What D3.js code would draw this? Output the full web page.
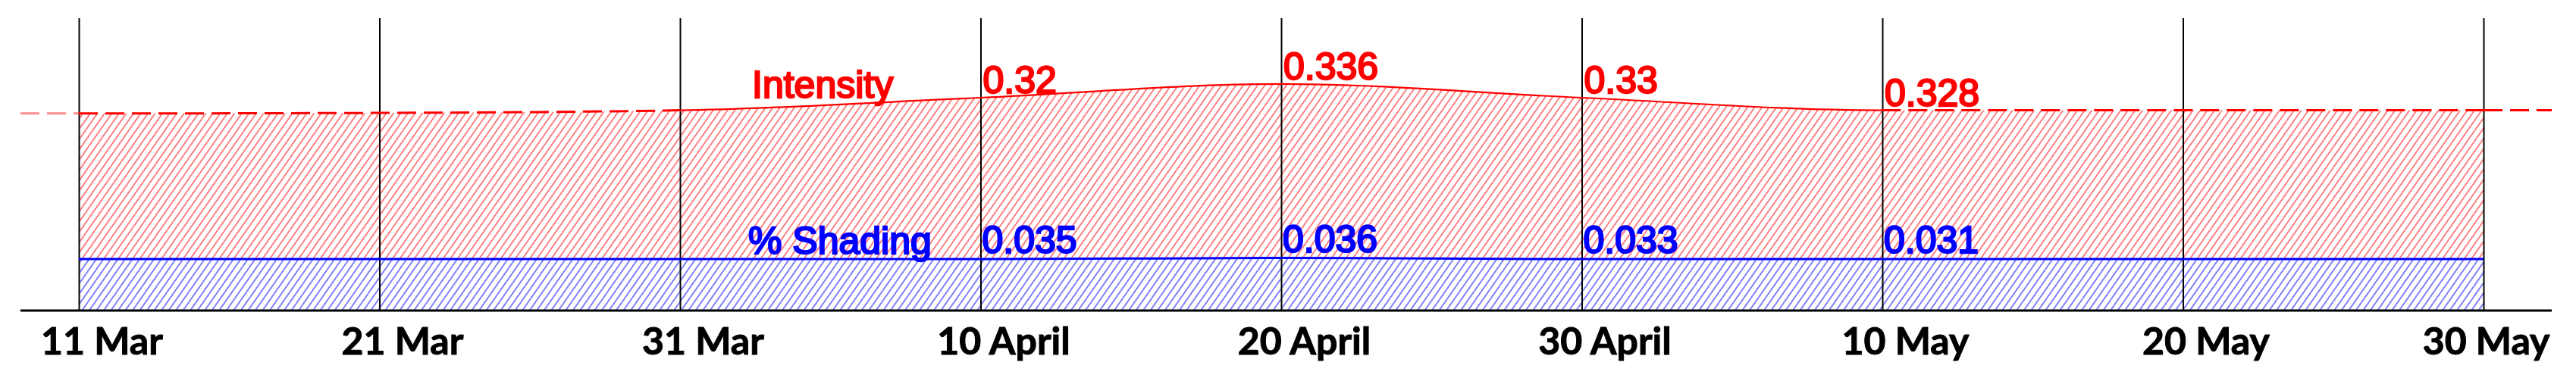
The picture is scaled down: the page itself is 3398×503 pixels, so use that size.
<!DOCTYPE html>
<html>
  <head>
    <meta charset="utf-8">
    <script src="https://d3js.org/d3.v7.min.js"></script>
    <title></title>
    <style>
    body {
      margin: 0;
      background-color: #fff;
    }
    svg {
      display: block;
      background-color: #fff;
    }
    .val {
      font-family: "Liberation Sans", Arial, sans-serif;
      font-size: 50px;
      stroke-width: 2.4px;
    }
    .axis text {
      font-family: Lato, "Open Sans", sans-serif;
      font-weight: bold;
      font-size: 50px;
      fill: #000;
      stroke: #000;
      stroke-width: 1px;
    }
    .axis line {
      stroke: #000;
      stroke-width: 2px;
    }
    </style>
  </head>
  <body>
    <script type="text/javascript">
      // dates of the grid lines and their labels
      let dates = ['2020-03-11', '2020-03-21', '2020-03-31', '2020-04-10', '2020-04-20',
                   '2020-04-30', '2020-05-10', '2020-05-20', '2020-05-30']
      let tickLabels = ['11 Mar', '21 Mar', '31 Mar', '10 April', '20 April',
                        '30 April', '10 May', '20 May', '30 May']

      // drawn height of the two top edges (% of plot height)
      let intensityLevel = [67.4, 67.6, 68.5, 72.8, 77.5, 72.8, 68.5, 68.5, 68.5]
      let shadingLevel = [17.6, 17.6, 17.6, 17.6, 18.0, 17.6, 17.6, 17.6, 17.6]

      // annotated values, 10 April to 10 May
      let valueDates = ['2020-04-10', '2020-04-20', '2020-04-30', '2020-05-10']
      let intensityValues = ['0.32', '0.336', '0.33', '0.328']
      let shadingValues = ['0.035', '0.036', '0.033', '0.031']

      // the measured stretch (solid line) and series names
      let solidRange = ['2020-03-31', '2020-05-10']
      let seriesNames = ['Intensity', '% Shading']

      let w = 3398
      let h = 503
      let pLeft = 104, pRight = 3276, pTop = 24, pBottom = 410
      let axisStart = 27, axisEnd = 3366

      let parse = d3.utcParse('%Y-%m-%d')
      let data = dates.map((d, i) => ({
        date: parse(d),
        hi: intensityLevel[i],
        lo: shadingLevel[i]
      }))

      let svg = d3.select('body')
                  .append('svg')
                  .attr('width', w)
                  .attr('height', h)

      let xScale = d3.scaleUtc()
                     .domain([data[0].date, data[data.length - 1].date])
                     .range([pLeft, pRight])
      let yScale = d3.scaleLinear()
                     .domain([0, 100])
                     .range([pBottom, pTop])

      // hatch patterns (thin lines tilted ~55 degrees)
      let defs = svg.append('defs')
      function hatch(id, color) {
        let s = 7.8
        defs.append('pattern')
            .attr('id', id)
            .attr('patternUnits', 'userSpaceOnUse')
            .attr('width', s)
            .attr('height', 20)
            .attr('patternTransform', 'rotate(35)')
          .append('line')
            .attr('x1', s / 2).attr('x2', s / 2)
            .attr('y1', 0).attr('y2', 20)
            .attr('stroke', color)
            .attr('stroke-opacity', 0.7)
            .attr('stroke-width', 1.4)
      }
      hatch('hatchRed', '#ff0000')
      hatch('hatchBlue', '#0000ff')

      let x0 = xScale(parse(solidRange[0]))
      let x1 = xScale(parse(solidRange[1]))
      defs.append('clipPath').attr('id', 'inside')
          .append('rect').attr('x', x0).attr('y', 0).attr('width', x1 - x0).attr('height', h)
      defs.append('clipPath').attr('id', 'outside')
          .append('path')
          .attr('d', `M0,0H${x0}V${h}H0Z M${x1},0H${w}V${h}H${x1}Z`)

      let curve = d3.curveMonotoneX

      // red hatched band between the two edges
      svg.append('path')
         .datum(data)
         .attr('d', d3.area().curve(curve)
                      .x(d => xScale(d.date))
                      .y0(d => yScale(d.lo))
                      .y1(d => yScale(d.hi)))
         .attr('fill', 'url(#hatchRed)')

      // blue hatched band
      svg.append('path')
         .datum(data)
         .attr('d', d3.area().curve(curve)
                      .x(d => xScale(d.date))
                      .y0(yScale(0))
                      .y1(d => yScale(d.lo)))
         .attr('fill', 'url(#hatchBlue)')

      // x axis with grid lines
      let axis = svg.append('g')
                    .attr('class', 'axis')
                    .attr('transform', `translate(0, ${pBottom})`)
                    .call(d3.axisBottom(xScale)
                            .tickValues(data.map(d => d.date))
                            .tickFormat((d, i) => tickLabels[i])
                            .tickSizeInner(-(pBottom - pTop))
                            .tickSizeOuter(0))
      axis.select('.domain').remove()
      axis.selectAll('text')
          .attr('y', 58)
          .attr('dy', 0)
          .attr('x', function(d) {
            let tx = xScale(d)
            let half = this.getComputedTextLength() / 2
            return Math.min(30, axisEnd - 3 - half - tx)
          })

      svg.append('line')
         .attr('x1', axisStart).attr('x2', axisEnd)
         .attr('y1', pBottom).attr('y2', pBottom)
         .attr('stroke', '#000')
         .attr('stroke-width', 3)

      // blue top edge
      svg.append('path')
         .datum(data)
         .attr('d', d3.line().curve(curve).x(d => xScale(d.date)).y(d => yScale(d.lo)))
         .attr('fill', 'none')
         .attr('stroke', '#0000ff')
         .attr('stroke-width', 3)

      // red top edge: solid where measured, dashed elsewhere
      let redLine = d3.line().curve(curve).x(d => xScale(d.date)).y(d => yScale(d.hi))
      svg.append('path')
         .datum(data)
         .attr('d', redLine)
         .attr('clip-path', 'url(#inside)')
         .attr('fill', 'none')
         .attr('stroke', '#ff0000')
         .attr('stroke-width', 2.2)
      svg.append('path')
         .datum(data)
         .attr('d', redLine)
         .attr('clip-path', 'url(#outside)')
         .attr('fill', 'none')
         .attr('stroke', '#ff0000')
         .attr('stroke-width', 3)
         .attr('stroke-dasharray', '25,10')
      svg.append('line')
         .attr('x1', axisStart).attr('x2', xScale(data[0].date))
         .attr('y1', yScale(data[0].hi)).attr('y2', yScale(data[0].hi))
         .attr('stroke', '#ff0000')
         .attr('stroke-opacity', 0.45)
         .attr('stroke-width', 3)
         .attr('stroke-dasharray', '25,10')
      svg.append('line')
         .attr('x1', xScale(data[data.length - 1].date)).attr('x2', axisEnd)
         .attr('y1', yScale(data[data.length - 1].hi)).attr('y2', yScale(data[data.length - 1].hi))
         .attr('stroke', '#ff0000')
         .attr('stroke-width', 3)
         .attr('stroke-dasharray', '25,10')

      // value labels
      let levelAt = (dateStr, key) => data[dates.indexOf(dateStr)][key]
      svg.selectAll('text.ival')
         .data(valueDates)
         .enter()
         .append('text')
         .attr('class', 'val ival')
         .attr('x', d => xScale(parse(d)) + 3)
         .attr('y', d => yScale(levelAt(d, 'hi')) - 5.5)
         .attr('fill', '#ff0000')
         .attr('stroke', '#ff0000')
         .text((d, i) => intensityValues[i])
      svg.selectAll('text.sval')
         .data(valueDates)
         .enter()
         .append('text')
         .attr('class', 'val sval')
         .attr('x', d => xScale(parse(d)) + 2)
         .attr('y', d => yScale(levelAt(d, 'lo')) - 8)
         .attr('fill', '#0000ff')
         .attr('stroke', '#0000ff')
         .text((d, i) => shadingValues[i])

      // series names
      svg.append('text')
         .attr('class', 'val')
         .attr('x', x0 + 95)
         .attr('y', 129)
         .attr('fill', '#ff0000')
         .attr('stroke', '#ff0000')
         .text(seriesNames[0])
      svg.append('text')
         .attr('class', 'val')
         .attr('x', x0 + 90)
         .attr('y', yScale(shadingLevel[2]) - 7)
         .attr('fill', '#0000ff')
         .attr('stroke', '#0000ff')
         .text(seriesNames[1])
    </script>
  </body>
</html>
